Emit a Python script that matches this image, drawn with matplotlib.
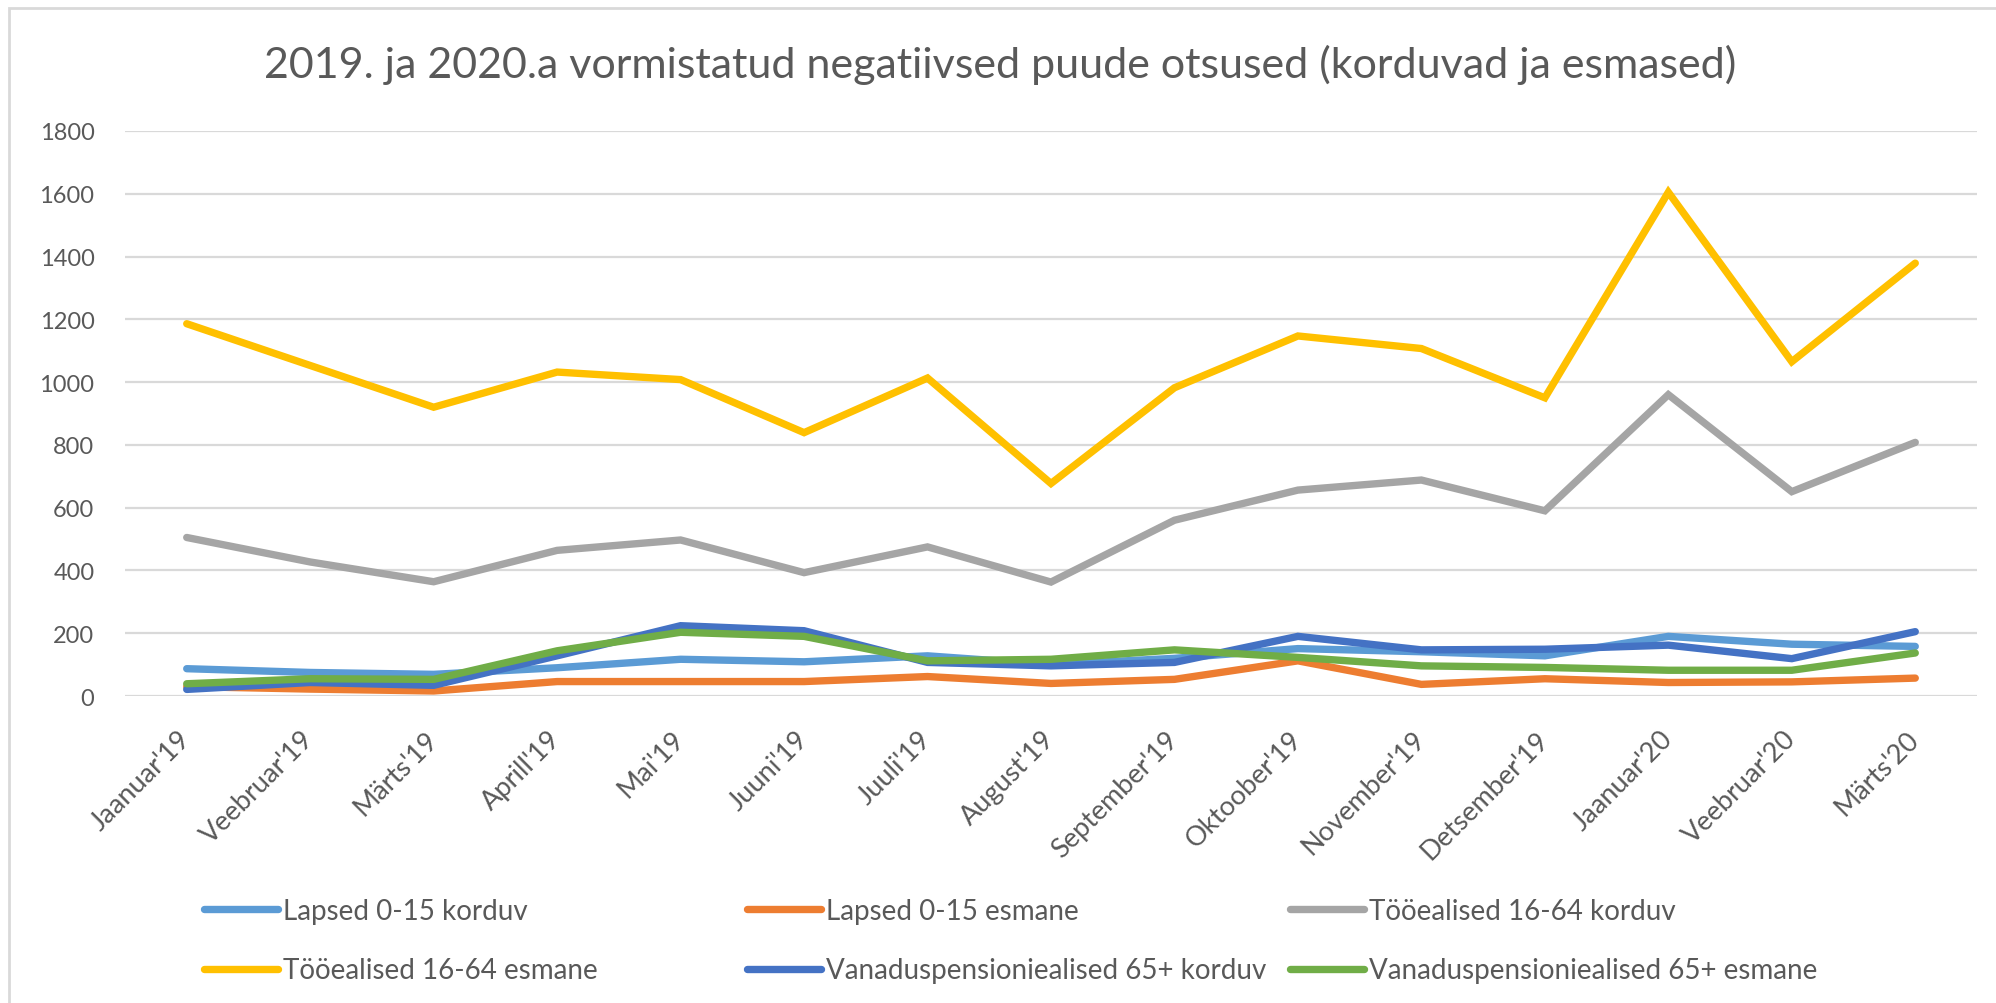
import matplotlib
matplotlib.use("Agg")
import matplotlib.pyplot as plt
from matplotlib.patches import Rectangle

plt.rcParams['font.family'] = ['Lato', 'DejaVu Sans']

months = ["Jaanuar'19", "Veebruar'19", "Märts'19", "Aprill'19", "Mai'19", "Juuni'19",
          "Juuli'19", "August'19", "September'19", "Oktoober'19", "November'19",
          "Detsember'19", "Jaanuar'20", "Veebruar'20", "Märts'20"]

lapsed_korduv = [87, 75, 69, 90, 117, 109, 128, 100, 120, 151, 141, 128, 190, 165, 158]
lapsed_esmane = [30, 22, 16, 46, 46, 46, 62, 40, 53, 112, 37, 55, 43, 45, 57]
tooealised_korduv = [505, 427, 364, 464, 497, 393, 475, 363, 560, 656, 688, 590, 960, 651, 808]
tooealised_esmane = [1186, 1053, 920, 1032, 1008, 839, 1013, 677, 982, 1147, 1107, 950, 1605, 1065, 1379]
vanad_korduv = [21, 43, 34, 128, 224, 208, 107, 96, 107, 190, 147, 149, 162, 119, 205]
vanad_esmane = [39, 55, 53, 144, 203, 190, 112, 117, 147, 123, 96, 91, 82, 82, 137]

series = [
    ("Lapsed 0-15 korduv", lapsed_korduv, "#5B9BD5"),
    ("Lapsed 0-15 esmane", lapsed_esmane, "#ED7D31"),
    ("Tööealised 16-64 korduv", tooealised_korduv, "#A5A5A5"),
    ("Tööealised 16-64 esmane", tooealised_esmane, "#FFC000"),
    ("Vanaduspensioniealised 65+ korduv", vanad_korduv, "#4472C4"),
    ("Vanaduspensioniealised 65+ esmane", vanad_esmane, "#70AD47"),
]

txt = "#595959"
fig = plt.figure(figsize=(19.96, 10.04), dpi=100)
ax = fig.add_axes([125 / 1996, 1 - 697 / 1004, (1977 - 125) / 1996, (697 - 132) / 1004])

x = list(range(len(months)))
lines = []
for name, vals, col in series:
    ln, = ax.plot(x, vals, color=col, lw=5.3, label=name, solid_capstyle='round',
                  solid_joinstyle='miter')
    lines.append(ln)

ax.set_xlim(-0.5, len(months) - 0.5)
ax.set_ylim(0, 1800)
ax.set_yticks(range(0, 1801, 200))
ax.set_xticks(x)
ax.set_xticklabels(months, rotation=45, ha='right', va='center', rotation_mode='anchor')
ax.grid(axis='y', color='#D9D9D9', lw=1.6)
ax.set_axisbelow(True)
for s in ax.spines.values():
    s.set_visible(False)
ax.tick_params(axis='both', length=0, colors=txt)
ax.tick_params(axis='y', pad=22, labelsize=17)
ax.tick_params(axis='x', pad=28, labelsize=19.5)

fig.text(0.501, 1 - 78 / 1004, "2019. ja 2020.a vormistatud negatiivsed puude otsused (korduvad ja esmased)",
         ha='center', va='baseline', fontsize=31, color=txt)

# legend: three columns, two rows
cols = [(0, 3), (1, 4), (2, 5)]
xs = [204, 747, 1290]
for (a, b), xp in zip(cols, xs):
    lg = fig.legend([lines[a], lines[b]], [series[a][0], series[b][0]],
                    loc='upper left', bbox_to_anchor=(xp / 1996, 1 - 899 / 1004),
                    frameon=False, fontsize=20, handlelength=2.66, handletextpad=0.18,
                    labelspacing=1.2, borderpad=0, borderaxespad=0)
    for t in lg.get_texts():
        t.set_color(txt)

fig.patches.append(Rectangle((9 / 1996, -0.05), 1.2, 1.05 - 9 / 1004, transform=fig.transFigure,
                             fill=False, edgecolor='#D9D9D9', lw=2))

fig.savefig("out.png", dpi=100)
